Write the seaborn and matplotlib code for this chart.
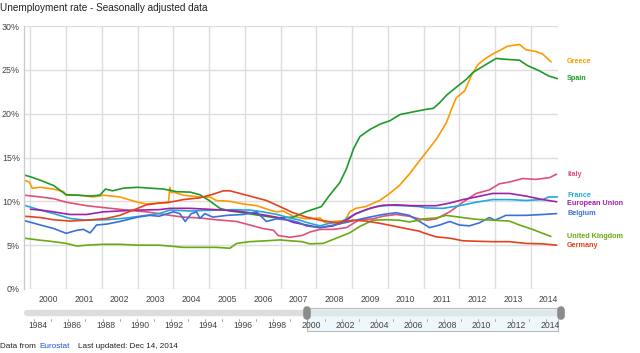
import numpy as np
import pandas as pd
import matplotlib
matplotlib.use("Agg")
import matplotlib.pyplot as plt
from matplotlib.patches import Rectangle
import seaborn as sns

# monthly-ish readings (decimal year, % unemployed)
greece_t = [1999.83, 1999.97, 2000.05, 2000.28, 2000.65, 2000.93, 2001.0, 2001.34, 2001.76, 2002.04,
            2002.5, 2003.0, 2003.24, 2003.6, 2003.86, 2003.9, 2003.94, 2004.0, 2004.28, 2004.74,
            2005.02, 2005.2, 2005.58, 2005.95, 2006.33, 2006.7, 2006.88, 2007.07, 2007.35, 2007.7,
            2008.1, 2008.23, 2008.47, 2008.8, 2008.93, 2009.1, 2009.38, 2009.77, 2010.05, 2010.32,
            2010.6, 2010.88, 2011.13, 2011.36, 2011.64, 2011.78, 2011.91, 2012.15, 2012.33, 2012.52,
            2012.7, 2012.93, 2013.17, 2013.35, 2013.68, 2013.86, 2014.14, 2014.33, 2014.57]
greece_v = [12.4, 12.2, 11.5, 11.6, 11.4, 11.1, 10.7, 10.7, 10.5, 10.7,
            10.5, 9.9, 9.7, 9.8, 9.85, 11.6, 11.0, 11.05, 10.7, 10.5,
            10.5, 10.1, 10.0, 9.7, 9.5, 9.0, 8.8, 8.9, 8.3, 8.0,
            8.1, 7.6, 7.7, 7.8, 8.8, 9.2, 9.4, 10.1, 10.9, 11.8,
            13.1, 14.6, 15.9, 17.1, 19.0, 20.5, 21.8, 22.6, 24.3, 25.6,
            26.2, 26.8, 27.3, 27.7, 27.9, 27.3, 27.1, 26.8, 25.9]

spain_t = [1999.83, 2000.0, 2000.28, 2000.65, 2001.0, 2001.34, 2001.67, 2001.94, 2002.1, 2002.3,
           2002.6, 2003.0, 2003.35, 2003.72, 2004.1, 2004.47, 2004.74, 2005.0, 2005.3, 2005.58,
           2005.95, 2006.4, 2006.9, 2007.35, 2007.7, 2008.14, 2008.37, 2008.65, 2008.84, 2009.04,
           2009.22, 2009.5, 2009.78, 2010.06, 2010.34, 2010.7, 2011.08, 2011.27, 2011.45, 2011.64,
           2011.91, 2012.19, 2012.38, 2012.66, 2013.03, 2013.3, 2013.68, 2013.9, 2014.23, 2014.5,
           2014.74]
spain_v = [13.0, 12.8, 12.4, 11.8, 10.75, 10.7, 10.6, 10.7, 11.4, 11.2,
           11.5, 11.6, 11.5, 11.4, 11.1, 11.05, 10.75, 10.1, 9.2, 8.9,
           8.7, 8.4, 8.1, 8.2, 8.8, 9.4, 10.7, 12.1, 13.7, 16.0,
           17.4, 18.2, 18.8, 19.2, 19.9, 20.2, 20.5, 20.6, 21.25, 22.1,
           23.0, 23.9, 24.7, 25.4, 26.3, 26.2, 26.1, 25.5, 24.9, 24.3,
           24.0]

italy_t = [1999.83, 2000.28, 2000.65, 2001.0, 2001.57, 2002.13, 2002.7, 2003.24, 2003.6, 2003.9,
           2004.28, 2004.74, 2005.2, 2005.77, 2006.14, 2006.5, 2006.8, 2006.93, 2007.26, 2007.6,
           2007.82, 2008.1, 2008.47, 2008.84, 2009.2, 2009.58, 2009.86, 2010.23, 2010.6, 2010.88,
           2011.1, 2011.35, 2011.73, 2012.1, 2012.47, 2012.84, 2013.12, 2013.4, 2013.77, 2014.14,
           2014.52, 2014.72]
italy_v = [10.7, 10.5, 10.3, 9.9, 9.5, 9.25, 9.0, 8.8, 8.6, 8.4,
           8.2, 8.1, 7.9, 7.7, 7.3, 6.9, 6.7, 6.1, 5.9, 6.1,
           6.5, 6.8, 6.8, 7.0, 7.9, 8.0, 8.3, 8.5, 8.3, 8.0,
           7.85, 8.0, 8.8, 9.9, 10.9, 11.3, 12.0, 12.2, 12.6, 12.5,
           12.7, 13.1]

france_t = [1999.83, 2000.28, 2000.65, 2001.1, 2001.57, 2002.13, 2002.7, 2003.24, 2003.6, 2003.9,
            2004.47, 2005.2, 2005.67, 2006.14, 2006.5, 2006.9, 2007.26, 2007.5, 2007.72, 2008.1,
            2008.37, 2008.65, 2009.02, 2009.3, 2009.67, 2010.05, 2010.5, 2010.88, 2011.07, 2011.54,
            2012.0, 2012.47, 2012.93, 2013.4, 2013.86, 2014.33, 2014.5, 2014.75]
france_v = [9.55, 9.0, 8.6, 8.05, 7.85, 7.9, 8.1, 8.4, 8.6, 9.0,
            8.9, 9.0, 9.05, 9.0, 8.8, 8.5, 8.1, 7.9, 7.6, 7.2,
            7.5, 7.6, 8.4, 8.9, 9.4, 9.55, 9.5, 9.4, 9.25, 9.2,
            9.5, 9.9, 10.2, 10.2, 10.1, 10.2, 10.5, 10.5]

eu_t = [2000.0, 2000.28, 2000.65, 2001.1, 2001.57, 2002.04, 2002.5, 2003.0, 2003.6, 2003.9,
        2004.47, 2005.2, 2005.77, 2006.14, 2006.6, 2007.07, 2007.35, 2007.72, 2008.1, 2008.47,
        2008.84, 2009.1, 2009.49, 2009.86, 2010.23, 2010.7, 2011.0, 2011.35, 2011.73, 2012.1,
        2012.47, 2012.93, 2013.4, 2013.86, 2014.33, 2014.72]
eu_v = [9.1, 9.0, 8.8, 8.5, 8.5, 8.8, 8.9, 9.0, 9.05, 9.2,
        9.2, 9.05, 8.9, 8.7, 8.4, 8.05, 7.6, 7.3, 7.0, 7.2,
        7.85, 8.6, 9.2, 9.55, 9.6, 9.5, 9.5, 9.5, 9.8, 10.2,
        10.5, 10.9, 10.9, 10.6, 10.2, 9.95]

belgium_t = [1999.83, 2000.28, 2000.65, 2001.0, 2001.3, 2001.48, 2001.67, 2001.85, 2002.13, 2002.5,
             2003.0, 2003.33, 2003.6, 2004.0, 2004.18, 2004.33, 2004.5, 2004.65, 2004.74, 2004.88,
             2005.1, 2005.5, 2005.95, 2006.33, 2006.6, 2006.88, 2007.26, 2007.5, 2007.72, 2008.1,
             2008.56, 2008.84, 2009.1, 2009.49, 2009.86, 2010.23, 2010.6, 2010.89, 2011.17, 2011.45,
             2011.73, 2012.0, 2012.28, 2012.56, 2012.84, 2013.0, 2013.3, 2013.86, 2014.33, 2014.72]
belgium_v = [7.8, 7.3, 6.9, 6.35, 6.7, 6.8, 6.4, 7.3, 7.4, 7.7,
             8.2, 8.4, 8.3, 8.8, 8.6, 7.7, 8.6, 8.8, 8.05, 8.6,
             8.2, 8.4, 8.5, 8.8, 7.7, 8.0, 7.85, 7.6, 7.2, 7.0,
             7.35, 7.6, 7.85, 8.2, 8.5, 8.7, 8.4, 7.7, 7.0, 7.3,
             7.7, 7.3, 7.2, 7.55, 8.15, 7.85, 8.4, 8.4, 8.5, 8.6]

uk_t = [1999.83, 2000.2, 2000.65, 2001.0, 2001.3, 2001.57, 2002.04, 2002.5, 2003.0, 2003.6,
        2003.9, 2004.28, 2004.74, 2005.2, 2005.58, 2005.77, 2006.14, 2006.6, 2006.98, 2007.26,
        2007.6, 2007.82, 2008.19, 2008.56, 2008.93, 2009.2, 2009.58, 2009.95, 2010.32, 2010.6,
        2010.88, 2011.0, 2011.35, 2011.63, 2012.0, 2012.47, 2012.93, 2013.4, 2013.68, 2014.05,
        2014.33, 2014.56]
uk_v = [5.8, 5.6, 5.4, 5.2, 4.9, 5.0, 5.1, 5.1, 5.0, 5.0,
        4.9, 4.75, 4.75, 4.75, 4.65, 5.2, 5.4, 5.5, 5.6, 5.5,
        5.4, 5.15, 5.2, 5.8, 6.4, 7.1, 7.85, 7.9, 7.85, 7.65,
        7.85, 8.0, 8.1, 8.4, 8.2, 7.95, 7.85, 7.75, 7.3, 6.8,
        6.35, 6.0]

germany_t = [1999.83, 2000.28, 2000.65, 2001.1, 2001.57, 2002.13, 2002.5, 2003.0, 2003.24, 2003.6,
             2003.9, 2004.28, 2004.74, 2005.1, 2005.4, 2005.58, 2005.86, 2006.23, 2006.6, 2006.98,
             2007.35, 2007.72, 2008.1, 2008.56, 2009.02, 2009.4, 2009.77, 2010.14, 2010.5, 2010.88,
             2011.0, 2011.35, 2011.73, 2012.1, 2012.47, 2012.93, 2013.4, 2013.86, 2014.33, 2014.72]
germany_v = [8.3, 8.15, 7.9, 7.75, 7.85, 8.05, 8.4, 9.2, 9.6, 9.8,
             9.9, 10.2, 10.4, 10.8, 11.2, 11.2, 10.9, 10.5, 10.1, 9.4,
             8.7, 8.2, 7.85, 7.55, 7.85, 7.75, 7.5, 7.2, 6.9, 6.6,
             6.4, 5.95, 5.8, 5.5, 5.45, 5.4, 5.4, 5.2, 5.15, 5.0]

countries = ["Greece", "Spain", "Italy", "France", "European Union", "Belgium", "United Kingdom", "Germany"]
series = {
    "Greece": (greece_t, greece_v),
    "Spain": (spain_t, spain_v),
    "Italy": (italy_t, italy_v),
    "France": (france_t, france_v),
    "European Union": (eu_t, eu_v),
    "Belgium": (belgium_t, belgium_v),
    "United Kingdom": (uk_t, uk_v),
    "Germany": (germany_t, germany_v),
}
colors = {
    "Greece": "#ff9900",
    "Spain": "#1f9a2a",
    "Italy": "#e0507a",
    "France": "#22a9dc",
    "European Union": "#a020a6",
    "Belgium": "#3d6fd9",
    "United Kingdom": "#6aaa10",
    "Germany": "#e2431e",
}
# small nudges so the end labels don't collide
label_nudge = {"France": 0.15, "European Union": -0.25}

years = list(range(2000, 2015))
nav_years = list(range(1984, 2015, 2))

rows = []
for c in countries:
    t, v = series[c]
    for a, b in zip(t, v):
        rows.append((c, a, b))
df = pd.DataFrame(rows, columns=["country", "year", "rate"])

sns.set_style("white")
plt.rcParams["font.family"] = ["Liberation Sans", "DejaVu Sans"]

W, H = 640, 353
fig = plt.figure(figsize=(6.4, 3.53), dpi=100)
ax = fig.add_axes([24 / W, 1 - 289 / H, (558 - 24) / W, (289 - 26) / H])

sns.lineplot(data=df, x="year", y="rate", hue="country", hue_order=countries,
             palette=colors, estimator=None, sort=False, linewidth=1.2,
             legend=False, ax=ax)

ax.set_xlim(1999.82, 2014.76)
ax.set_ylim(0, 30)
ax.set_yticks(range(0, 31, 5))
ax.set_yticklabels(["%d%%" % v for v in range(0, 31, 5)])
ax.set_xticks(years)
ax.set_xticklabels([])
ax.set_xticks([y + 0.5 for y in years], minor=True)
ax.set_xticklabels([str(y) for y in years], minor=True)
ax.tick_params(axis="x", which="both", length=0, pad=4, labelsize=6.2, labelcolor="#444444")
ax.tick_params(axis="y", length=0, pad=3, labelsize=6.4, labelcolor="#444444")
ax.grid(True, which="major", color="#dddddd", linewidth=1.0)
ax.set_axisbelow(True)
ax.set_xlabel("")
ax.set_ylabel("")
for s in ["top", "right", "bottom"]:
    ax.spines[s].set_visible(False)
ax.spines["left"].set_color("#cccccc")
ax.spines["left"].set_linewidth(1.0)

# end labels
for c in countries:
    t, v = series[c]
    ax.annotate(c, xy=(1, v[-1] + label_nudge.get(c, 0)), xycoords=("axes fraction", "data"),
                xytext=(6.5, 0), textcoords="offset points", ha="left", va="center",
                fontsize=5.2, fontweight="bold", color=colors[c])

# range navigator under the chart
nav = fig.add_axes([24 / W, 1 - 334 / H, (561 - 24) / W, (334 - 304) / H])
nav.set_xlim(1983.4, 2014.85)
nav.set_ylim(334, 304)
nav.axis("off")
nav.plot([1983.6, 2014.7], [313, 313], color="#dddddd", linewidth=4.5, solid_capstyle="round")
nav.add_patch(Rectangle((2000, 308), 14.7, 23, facecolor="#eef8fc", edgecolor="#bbbbbb", linewidth=0.8))
nav.plot([2000, 2014.7], [313, 313], color="#dde7ec", linewidth=4.5)
for x in [2000, 2014.85]:
    nav.plot([x, x], [310, 316], color="#8c8c8c", linewidth=5.5, solid_capstyle="round", clip_on=False)
for y in range(1983, 2015):
    nav.plot([y, y], [319, 321], color="#999999", linewidth=0.6)
for y in nav_years:
    nav.text(y + 0.2, 325.5, str(y), ha="center", va="center", fontsize=6.2, color="#444444")

fig.text(0, 1 - 8 / H, "Unemployment rate - Seasonally adjusted data", ha="left", va="center",
         fontsize=7.2, color="#222222")
fig.text(0, 1 - 347 / H, "Data from", ha="left", va="center", fontsize=5.9, color="#222222")
fig.text(39 / W, 1 - 347 / H, "Eurostat", ha="left", va="center", fontsize=5.9, color="#1a55cc")
fig.text(78 / W, 1 - 347 / H, "Last updated: Dec 14, 2014", ha="left", va="center", fontsize=5.9, color="#222222")

fig.savefig("out.png", dpi=100)
